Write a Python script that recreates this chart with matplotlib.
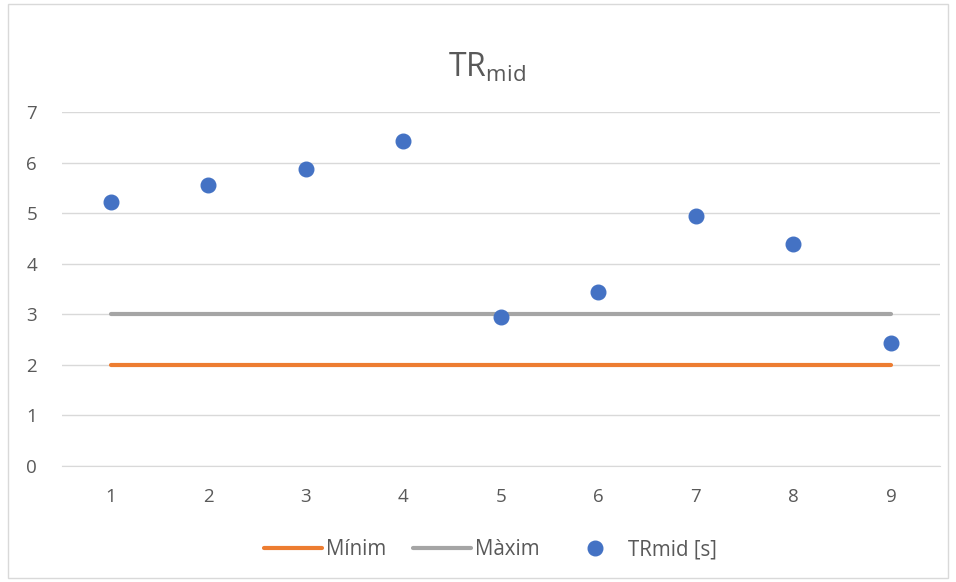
import matplotlib

matplotlib.use("Agg")
import matplotlib.pyplot as plt
from matplotlib.patches import Rectangle

# dades llegides del gràfic
x = [1, 2, 3, 4, 5, 6, 7, 8, 9]
minim = [2, 2, 2, 2, 2, 2, 2, 2, 2]
maxim = [3, 3, 3, 3, 3, 3, 3, 3, 3]
trmid = [5.22, 5.56, 5.87, 6.43, 2.95, 3.44, 4.94, 4.39, 2.43]

TEXT = "#595959"
plt.rcParams["font.family"] = ["Open Sans", "DejaVu Sans"]
plt.rcParams["mathtext.fontset"] = "custom"
plt.rcParams["mathtext.rm"] = "Open Sans"

fig = plt.figure(figsize=(9.56, 5.82), dpi=100)
ax = fig.add_axes([0.0649, 0.1993, 0.9181, 0.6083])

ax.plot(x, minim, color="#ED7D31", lw=3, solid_capstyle="round", label="Mínim", zorder=3)
ax.plot(x, maxim, color="#A5A5A5", lw=3, solid_capstyle="round", label="Màxim", zorder=3)
ax.plot(x, trmid, "o", color="#4472C4", ms=10.5, label="TRmid [s]", zorder=4)

ax.set_xlim(0.5, 9.5)
ax.set_ylim(0, 7)
ax.set_xticks(x)
ax.set_yticks(range(0, 8))
ax.grid(axis="y", color="#D9D9D9", lw=1)
ax.set_axisbelow(True)
for side in ("top", "right", "left"):
    ax.spines[side].set_visible(False)
ax.spines["bottom"].set_color("#D9D9D9")
ax.tick_params(length=0, labelsize=13.5, labelcolor=TEXT)
ax.tick_params(axis="x", pad=16)
ax.tick_params(axis="y", pad=18)

fig.text(0.509, 0.883, r"TR$_{\mathrm{mid}}$", ha="center", va="center", fontsize=23, color=TEXT)

fig.legend(loc="center", bbox_to_anchor=(0.513, 0.055), ncol=3, frameon=False,
           fontsize=14.8, labelcolor=TEXT, handlelength=2.8, columnspacing=1.3, handletextpad=0.2)

fig.add_artist(Rectangle((0.008, 0.007), 0.984, 0.986, transform=fig.transFigure,
                         fill=False, edgecolor="#D9D9D9", lw=1))

fig.savefig("out.png", dpi=100)
